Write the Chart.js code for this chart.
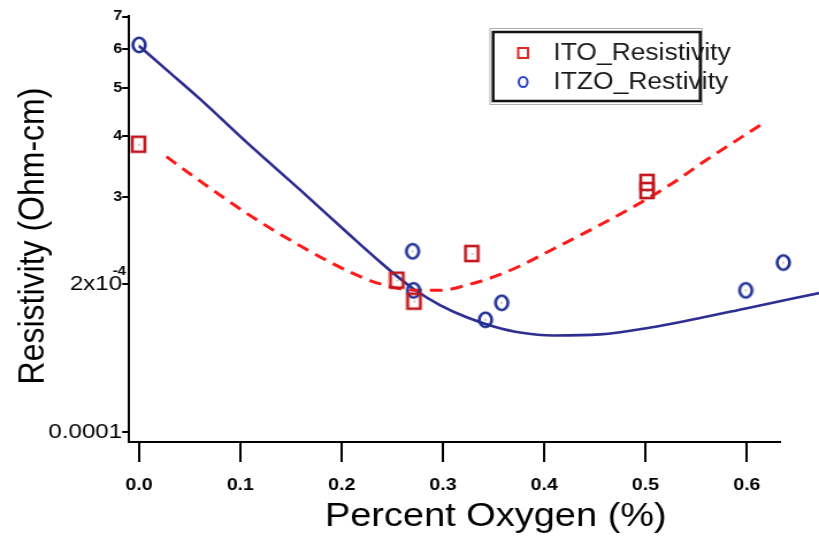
<!DOCTYPE html>
<html>
<head>
<meta charset="utf-8">
<script src="https://cdn.jsdelivr.net/npm/chart.js@4"></script>
<style>
  body { margin: 0; background: #fff; }
  /* drawn at 712 px wide, shown widened to 819 px */
  canvas { display: block; }
</style>
</head>
<body>
<canvas id="resChart" width="712" height="538" style="width:819px;height:538px"></canvas>
<script>
// Measured points
const itoX = [0.0, 0.255, 0.272, 0.329, 0.502, 0.502];
const itoY = [3.84e-4, 2.03e-4, 1.84e-4, 2.30e-4, 3.21e-4, 3.09e-4];
const itzoX = [0.0, 0.270, 0.271, 0.342, 0.358, 0.599, 0.636];
const itzoY = [6.13e-4, 2.33e-4, 1.94e-4, 1.69e-4, 1.83e-4, 1.94e-4, 2.21e-4];

// Fit curves
const itoFitX = [0.027, 0.060, 0.109, 0.159, 0.208, 0.238, 0.268, 0.297, 0.324, 0.350, 0.376, 0.409, 0.440, 0.488, 0.527, 0.557, 0.618];
const itoFitY = [3.63e-4, 3.24e-4, 2.76e-4, 2.39e-4, 2.115e-4, 2.00e-4, 1.944e-4, 1.94e-4, 1.99e-4, 2.066e-4, 2.175e-4, 2.356e-4, 2.54e-4, 2.87e-4, 3.21e-4, 3.54e-4, 4.27e-4];
const itzoFitX = [0.0, 0.030, 0.060, 0.109, 0.159, 0.208, 0.238, 0.258, 0.271, 0.297, 0.324, 0.350, 0.376, 0.409, 0.455, 0.505, 0.544, 0.599, 0.672];
const itzoFitY = [6.10e-4, 5.39e-4, 4.76e-4, 3.836e-4, 3.107e-4, 2.515e-4, 2.216e-4, 2.046e-4, 1.953e-4, 1.811e-4, 1.708e-4, 1.638e-4, 1.592e-4, 1.570e-4, 1.578e-4, 1.630e-4, 1.688e-4, 1.782e-4, 1.917e-4];

// Axis ticks
const xTicks = [0.0, 0.1, 0.2, 0.3, 0.4, 0.5, 0.6];
const yTicks = [1e-4, 2e-4, 3e-4, 4e-4, 5e-4, 6e-4, 7e-4];
const yTickText = ['0.0001', '2x10', '3', '4', '5', '6', '7'];

const FONT = '"Liberation Sans", Arial, Helvetica, sans-serif';
const zip = (xs, ys) => xs.map((x, i) => ({ x: x, y: ys[i] }));

// Hollow marker images (slightly taller than wide) with a centre dot
function makeMarker(kind, color) {
    const c = document.createElement('canvas');
    c.width = 16;
    c.height = 20;
    const g = c.getContext('2d');
    g.strokeStyle = color;
    g.lineWidth = 2.6;
    if (kind === 'square') {
        g.strokeRect(2, 2, 11, 15);
    } else {
        g.beginPath();
        g.ellipse(8, 10, 5.4, 7.2, 0, 0, Math.PI * 2);
        g.stroke();
    }
    g.fillStyle = '#333';
    g.fillRect(7.5, 9.5, 1, 1);
    return c;
}
const squareMarker = makeMarker('square', '#c0161c');
const circleMarker = makeMarker('circle', '#1f2f96');

// Axis titles, superscript exponent and boxed legend
const decorations = {
    id: 'decorations',
    afterDraw(chart) {
        const ctx = chart.ctx;
        ctx.save();
        ctx.fillStyle = '#000';
        ctx.textAlign = 'center';
        ctx.textBaseline = 'middle';

        ctx.font = '33px ' + FONT;
        ctx.fillText('Percent Oxygen (%)', 431, 517);

        ctx.save();
        ctx.translate(29, 236);
        ctx.rotate(-Math.PI / 2);
        ctx.font = '32px ' + FONT;
        ctx.fillText('Resistivity (Ohm-cm)', 0, 0);
        ctx.restore();

        // exponent of the 2x10 label
        const yTwo = chart.scales.y.getPixelForValue(2e-4);
        ctx.font = 'bold 13px ' + FONT;
        ctx.textAlign = 'right';
        ctx.fillText('-4', 109.5, yTwo - 12);

        // legend box
        ctx.strokeStyle = '#b0b0b0';
        ctx.lineWidth = 1;
        ctx.strokeRect(426, 28.5, 184.5, 76);
        ctx.strokeStyle = '#111';
        ctx.lineWidth = 2.5;
        ctx.strokeRect(428.7, 32, 180, 69);

        ctx.lineWidth = 2;
        ctx.strokeStyle = '#e02828';
        ctx.strokeRect(450.5, 48, 8.5, 10);
        ctx.strokeStyle = '#2a44c8';
        ctx.beginPath();
        ctx.ellipse(454.8, 82, 3.8, 5, 0, 0, Math.PI * 2);
        ctx.stroke();

        ctx.fillStyle = '#1a1a1a';
        ctx.font = '23px ' + FONT;
        ctx.textAlign = 'left';
        ctx.fillText('ITO_Resistivity', 481, 54);
        ctx.fillText('ITZO_Restivity', 481, 83);
        ctx.restore();
    }
};

const ctx = document.getElementById('resChart').getContext('2d');
const chart = new Chart(ctx, {
    type: 'scatter',
    data: {
        datasets: [
            {
                label: 'ITO_Resistivity',
                data: zip(itoX, itoY),
                pointStyle: squareMarker,
                clip: false
            },
            {
                label: 'ITZO_Restivity',
                data: zip(itzoX, itzoY),
                pointStyle: circleMarker,
                clip: false
            },
            {
                label: 'ITO fit',
                data: zip(itoFitX, itoFitY),
                showLine: true,
                pointRadius: 0,
                borderColor: '#ff1a1a',
                borderWidth: 3,
                borderDash: [11, 7],
                cubicInterpolationMode: 'monotone',
                clip: false
            },
            {
                label: 'ITZO fit',
                data: zip(itzoFitX, itzoFitY),
                showLine: true,
                pointRadius: 0,
                borderColor: '#2e2e92',
                borderWidth: 2.6,
                cubicInterpolationMode: 'monotone',
                clip: false
            }
        ]
    },
    options: {
        responsive: false,
        animation: false,
        events: [],
        layout: { padding: { left: 0, right: 33.7, top: 16, bottom: 0 } },
        plugins: {
            legend: { display: false },
            tooltip: { enabled: false }
        },
        scales: {
            x: {
                type: 'linear',
                min: -0.0099,
                max: 0.633,
                afterFit: (scale) => { scale.height = 96; },
                afterBuildTicks: (scale) => { scale.ticks = xTicks.map(v => ({ value: v })); },
                border: { display: true, color: '#000', width: 2 },
                grid: { drawOnChartArea: false, drawTicks: true, tickLength: 20, color: '#000', lineWidth: 2 },
                ticks: {
                    color: '#000',
                    padding: 13,
                    maxRotation: 0,
                    font: { family: FONT, size: 17, weight: 'bold' },
                    callback: (v) => Number(v).toFixed(1)
                }
            },
            y: {
                type: 'logarithmic',
                min: 0.953e-4,
                max: 7.02e-4,
                afterFit: (scale) => { scale.width = 112.2; },
                afterBuildTicks: (scale) => { scale.ticks = yTicks.map(v => ({ value: v })); },
                border: { display: true, color: '#000', width: 2 },
                grid: { drawOnChartArea: false, drawTicks: true, tickLength: 6, color: '#000', lineWidth: 2 },
                ticks: {
                    color: '#000',
                    padding: 0,
                    font: (c) => {
                        const v = c.tick ? c.tick.value : 0;
                        if (v < 2.5e-4) return { family: FONT, size: 21 };
                        return { family: FONT, size: 14, weight: 'bold' };
                    },
                    callback: (v) => {
                        const i = yTicks.findIndex(t => Math.abs(t - v) < 1e-9);
                        return i >= 0 ? yTickText[i] : '';
                    }
                }
            }
        }
    },
    plugins: [decorations]
});
</script>
</body>
</html>
